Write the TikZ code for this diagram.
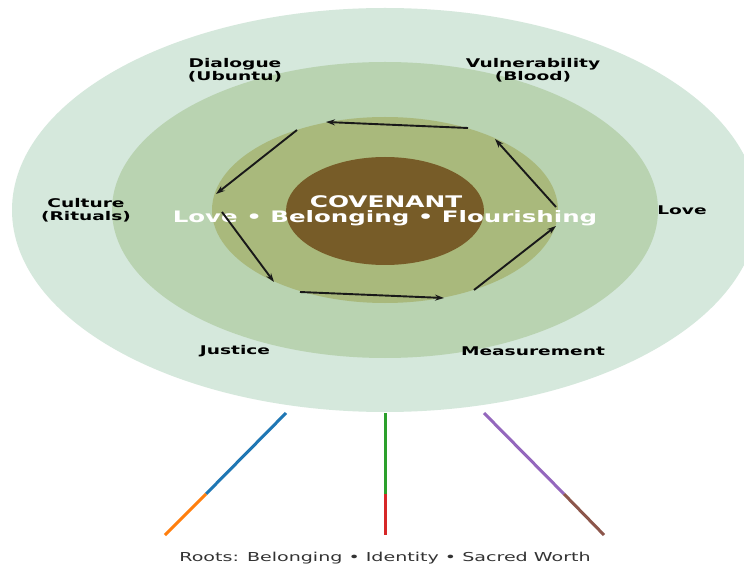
\documentclass[tikz,border=0pt]{standalone}
\usepackage{fontspec}
\setmainfont{DejaVu Sans}
\usetikzlibrary{arrows.meta}
\definecolor{outerc}{HTML}{D5E8DC}
\definecolor{midc}{HTML}{B9D3B1}
\definecolor{innerc}{HTML}{A9B97C}
\definecolor{corec}{HTML}{775C28}
\definecolor{tabblue}{HTML}{1F77B4}
\definecolor{taborange}{HTML}{FF7F0E}
\definecolor{tabgreen}{HTML}{2CA02C}
\definecolor{tabred}{HTML}{D62728}
\definecolor{tabpurple}{HTML}{9467BD}
\definecolor{tabbrown}{HTML}{8C564B}
\definecolor{roottext}{HTML}{333333}
\newcommand{\widetxt}[1]{\scalebox{1.55}[1]{#1}}
\tikzset{
  lbl/.style={font=\bfseries\fontsize{12}{13}\selectfont, text=black, align=center, inner sep=0pt},
  cov/.style={font=\bfseries\fontsize{16}{17}\selectfont, text=white, inner sep=0pt},
  cyc/.style={draw=black!90, line width=1.9pt, -{Stealth[length=9pt,width=6pt]}},
  root/.style={line width=3pt}
}
\begin{document}
\begin{tikzpicture}[x=1pt,y=1pt]
\useasboundingbox (0,-569) rectangle (744,0);
\clip (0,-569) rectangle (744,0);
\fill[white] (0,-569) rectangle (744,0);
% rings
\fill[outerc] (385,-210) ellipse [x radius=373, y radius=202];
\fill[midc] (385,-210) ellipse [x radius=273, y radius=148];
\fill[innerc] (385,-210) ellipse [x radius=173, y radius=93];
\fill[corec] (385,-211) ellipse [x radius=99, y radius=54];
% centre text
\node[cov] (covenant) at (386,-202) {\widetxt{COVENANT}};
\node[cov, font=\bfseries\fontsize{15.8}{17}\selectfont] (values) at (385,-218) {\widetxt{Love • Belonging • Flourishing}};
% labels
\node[lbl] (dialogue) at (235,-70) {\widetxt{Dialogue}\\\widetxt{(Ubuntu)}};
\node[lbl] (vulner) at (533,-70) {\widetxt{Vulnerability}\\\widetxt{(Blood)}};
\node[lbl] (culture) at (86,-210) {\widetxt{Culture}\\\widetxt{(Rituals)}};
\node[lbl] (love) at (682,-210) {\widetxt{Love}};
\node[lbl] (justice) at (235,-351) {\widetxt{Justice}};
\node[lbl] (measure) at (533,-351) {\widetxt{Measurement}};
% cycle coordinates
\coordinate (a1) at (468,-128); \coordinate (a2) at (326,-122);
\coordinate (b1) at (297,-130); \coordinate (b2) at (216,-194);
\coordinate (c1) at (222,-212); \coordinate (c2) at (274,-282);
\coordinate (d1) at (300,-292); \coordinate (d2) at (444,-298);
\coordinate (e1) at (474,-290); \coordinate (e2) at (556,-226);
\coordinate (f1) at (556,-207); \coordinate (f2) at (495,-139);
\draw[cyc] (a1) -- (a2);
\draw[cyc] (b1) -- (b2);
\draw[cyc] (c1) -- (c2);
\draw[cyc] (d1) -- (d2);
\draw[cyc] (e1) -- (e2);
\draw[cyc] (f1) -- (f2);
% roots
\coordinate (r1top) at (286,-413); \coordinate (r1mid) at (206,-494); \coordinate (r1end) at (165,-535);
\coordinate (r2top) at (385,-413); \coordinate (r2mid) at (385,-494); \coordinate (r2end) at (385,-535);
\coordinate (r3top) at (484,-413); \coordinate (r3mid) at (564,-494); \coordinate (r3end) at (604,-535);
\draw[root, tabblue] (r1top) -- (r1mid);
\draw[root, taborange] (r1mid) -- (r1end);
\draw[root, tabgreen] (r2top) -- (r2mid);
\draw[root, tabred] (r2mid) -- (r2end);
\draw[root, tabpurple] (r3top) -- (r3mid);
\draw[root, tabbrown] (r3mid) -- (r3end);
\node[font=\fontsize{12.3}{13}\selectfont, text=roottext, inner sep=0pt] (roots) at (385,-558) {\widetxt{Roots: Belonging • Identity • Sacred Worth}};
\end{tikzpicture}
\end{document}
